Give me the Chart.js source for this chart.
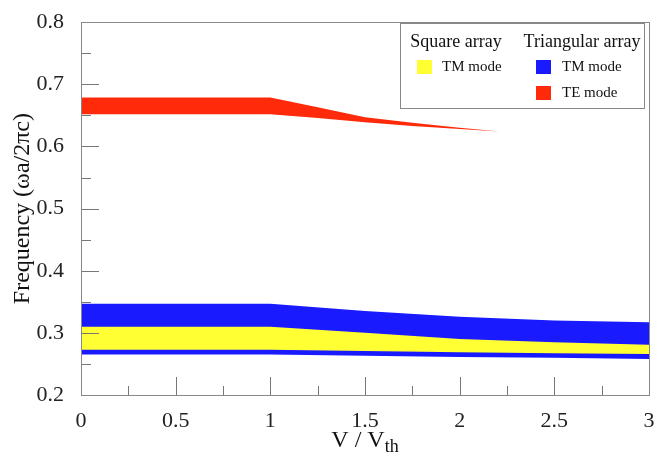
<!DOCTYPE html>
<html><head><meta charset="utf-8">
<script src="https://cdn.jsdelivr.net/npm/chart.js@4"></script>
<style>html,body{margin:0;padding:0;background:#fff}#wrap{width:662px;height:456px;position:relative}</style>
</head><body><div id="wrap"><canvas id="c"></canvas></div>
<script>
// ---- data ----
const vRatio = [0, 0.5, 1, 1.5, 2, 2.5, 3];
const squareTMLower = [0.273, 0.273, 0.273, 0.271, 0.269, 0.267, 0.266];
const squareTMUpper = [0.310, 0.310, 0.310, 0.300, 0.290, 0.285, 0.281];
const triTMLower = [0.265, 0.265, 0.265, 0.263, 0.261, 0.260, 0.258];
const triTMUpper = [0.347, 0.347, 0.347, 0.335, 0.326, 0.320, 0.317];
const vRatioTE = [0, 1, 1.25, 1.5, 1.75, 2, 2.21];
const triTELower = [0.652, 0.652, 0.646, 0.639, 0.633, 0.628, 0.624];
const triTEUpper = [0.679, 0.679, 0.663, 0.647, 0.638, 0.630, 0.624];
const xMajorTicks = [0, 0.5, 1, 1.5, 2, 2.5, 3];
const xTickLabels = ['0', '0.5', '1', '1.5', '2', '2.5', '3'];
const xMinorTicks = [0.25, 0.75, 1.25, 1.75, 2.25, 2.75];
const yMajorTicks = [0.2, 0.3, 0.4, 0.5, 0.6, 0.7, 0.8];
const yTickLabels = ['0.2', '0.3', '0.4', '0.5', '0.6', '0.7', '0.8'];
const yMinorTicks = [0.25, 0.35, 0.45, 0.55, 0.65, 0.75];
const legendGroups = ['Square array', 'Triangular array'];
const legendItems = ['TM mode', 'TM mode', 'TE mode'];

const YELLOW = '#ffff33', BLUE = '#1a1aff', RED = '#ff2a0a';
const SERIF = '"Liberation Serif", "DejaVu Serif", serif';

const pts = (xs, ys) => xs.map((x, i) => ({x: x, y: ys[i]}));
const band = (label, xs, ys, color, fill) => ({
  label: label, data: pts(xs, ys), borderWidth: 0, borderColor: color,
  backgroundColor: color, pointRadius: 0, tension: 0, fill: fill
});

const frameTicks = {
  id: 'frameTicks',
  afterDatasetsDraw(chart) {
    const ctx = chart.ctx, a = chart.chartArea;
    const xs = chart.scales.x, ys = chart.scales.y;
    ctx.save();
    ctx.strokeStyle = '#777';
    ctx.lineWidth = 1;
    ctx.beginPath();
    const line = (x1, y1, x2, y2) => { ctx.moveTo(x1, y1); ctx.lineTo(x2, y2); };
    xMajorTicks.forEach(v => { const p = Math.round(xs.getPixelForValue(v)) + 0.5; line(p, a.bottom, p, a.bottom - 18); });
    xMinorTicks.forEach(v => { const p = Math.round(xs.getPixelForValue(v)) + 0.5; line(p, a.bottom, p, a.bottom - 9); });
    yMajorTicks.forEach(v => { const p = Math.round(ys.getPixelForValue(v)) + 0.5; line(a.left, p, a.left + 18, p); });
    yMinorTicks.forEach(v => { const p = Math.round(ys.getPixelForValue(v)) + 0.5; line(a.left, p, a.left + 10, p); });
    ctx.stroke();
    ctx.strokeStyle = '#888';
    ctx.strokeRect(Math.round(a.left) + 0.5, Math.round(a.top) + 0.5, Math.round(a.right - a.left), Math.round(a.bottom - a.top));
    // x-axis title with subscript
    ctx.fillStyle = '#111';
    ctx.textBaseline = 'alphabetic';
    ctx.font = '24px ' + SERIF;
    const main = 'V / V', sub = 'th';
    const w1 = ctx.measureText(main).width;
    ctx.font = '18px ' + SERIF;
    const w2 = ctx.measureText(sub).width;
    const cx = (a.left + a.right) / 2;
    const x0 = cx - (w1 + w2) / 2;
    ctx.font = '24px ' + SERIF;
    ctx.fillText(main, x0, 447);
    ctx.font = '18px ' + SERIF;
    ctx.fillText(sub, x0 + w1, 452);
    // legend
    ctx.fillStyle = '#fff';
    ctx.fillRect(400, 23, 244, 85);
    ctx.strokeStyle = '#888';
    ctx.strokeRect(400.5, 23.5, 244, 85);
    ctx.fillStyle = '#111';
    ctx.font = '18px ' + SERIF;
    ctx.textBaseline = 'middle';
    ctx.textAlign = 'center';
    ctx.fillText(legendGroups[0], 456, 42);
    ctx.fillText(legendGroups[1], 582, 42);
    ctx.textAlign = 'left';
    ctx.font = '15px ' + SERIF;
    const sw = [[417, 60, YELLOW, 442, 67, 0], [536, 60, BLUE, 562, 67, 1], [536, 86, RED, 562, 93, 2]];
    sw.forEach(s => {
      ctx.fillStyle = s[2]; ctx.fillRect(s[0], s[1], 15, 14);
      ctx.fillStyle = '#111'; ctx.fillText(legendItems[s[5]], s[3], s[4]);
    });
    ctx.restore();
  }
};

new Chart(document.getElementById('c'), {
  type: 'line',
  data: {
    datasets: [
      band('Square array TM lower', vRatio, squareTMLower, YELLOW, false),
      band('Square array TM mode', vRatio, squareTMUpper, YELLOW, '-1'),
      band('Triangular array TM lower', vRatio, triTMLower, BLUE, false),
      band('Triangular array TM mode', vRatio, triTMUpper, BLUE, '-1'),
      band('Triangular array TE lower', vRatioTE, triTELower, RED, false),
      band('Triangular array TE mode', vRatioTE, triTEUpper, RED, '-1')
    ]
  },
  options: {
    responsive: true, maintainAspectRatio: false, animation: false,
    layout: {padding: {top: 18, right: 13, left: 0, bottom: 0}},
    plugins: {legend: {display: false}, tooltip: {enabled: false}, filler: {propagate: false}},
    scales: {
      x: {
        type: 'linear', min: 0, max: 3,
        afterBuildTicks: s => { s.ticks = xMajorTicks.map(v => ({value: v})); },
        afterFit: s => { s.height = 61; },
        grid: {display: false}, border: {display: false},
        ticks: {callback: (v, i) => xTickLabels[i], font: {family: SERIF, size: 22}, color: '#222', padding: 5, maxRotation: 0}
      },
      y: {
        type: 'linear', min: 0.2, max: 0.8,
        afterBuildTicks: s => { s.ticks = yMajorTicks.map(v => ({value: v})); },
        afterFit: s => { s.width = 81; },
        grid: {display: false}, border: {display: false},
        title: {display: true, text: 'Frequency (ωa/2πc)', font: {family: SERIF, size: 24}, color: '#111', padding: {top: 8, bottom: 0}},
        ticks: {callback: (v, i) => yTickLabels[i], font: {family: SERIF, size: 22}, color: '#222', padding: 9}
      }
    }
  },
  plugins: [frameTicks]
});
</script></body></html>
